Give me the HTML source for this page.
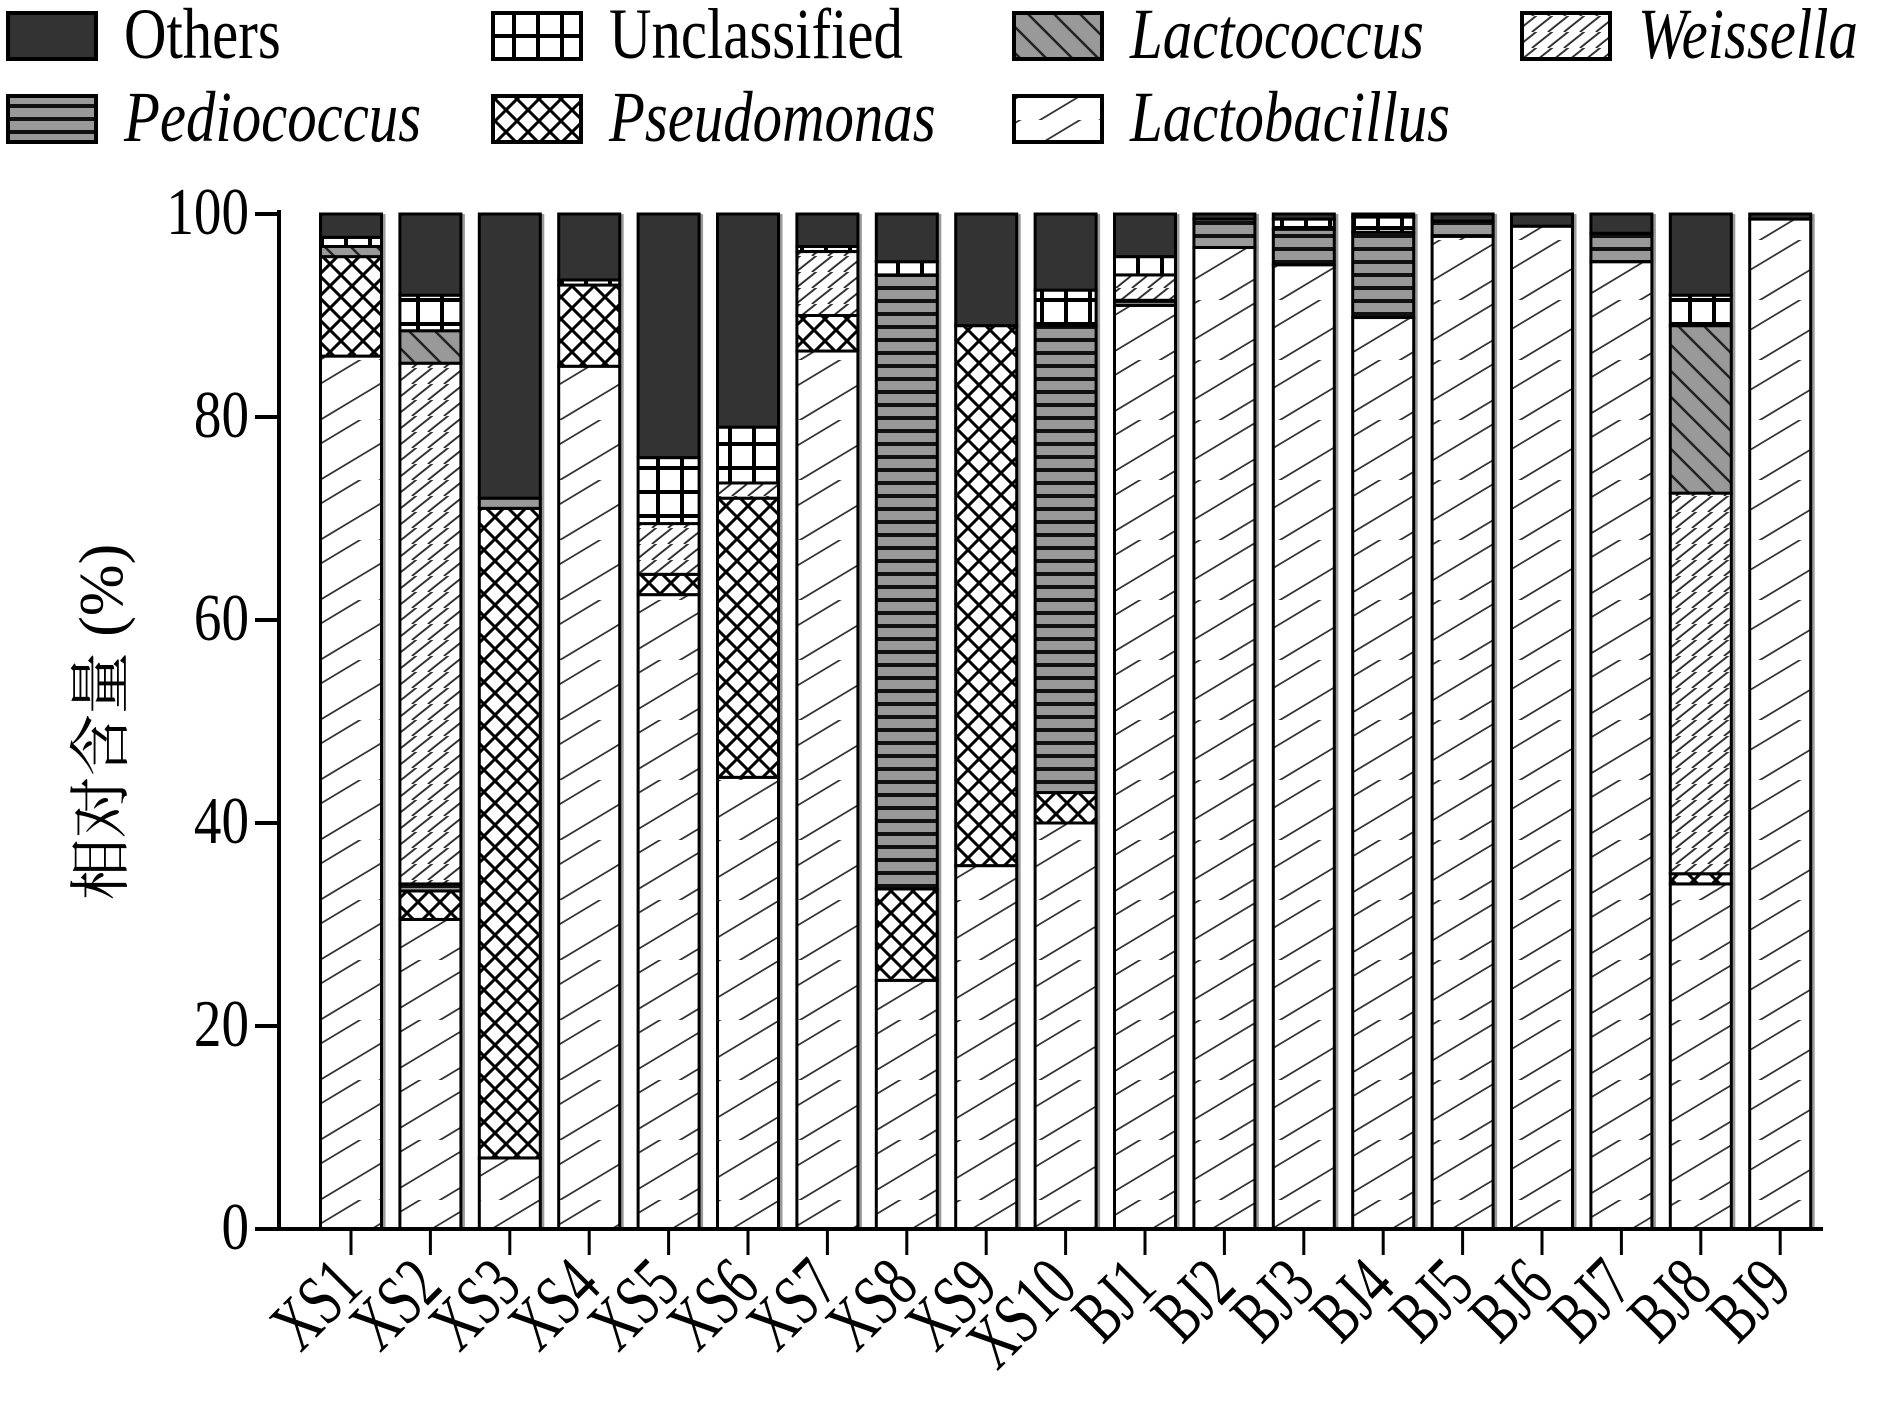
<!DOCTYPE html>
<html><head><meta charset="utf-8"><style>
html,body{margin:0;padding:0;background:#fff;}
svg{display:block;}
text{font-family:"Liberation Serif","Noto Serif CJK SC",serif;fill:#000;}
</style></head><body>
<svg id="chart" width="1890" height="1419" viewBox="0 0 1890 1419" xmlns="http://www.w3.org/2000/svg">
<defs>
<pattern id="p-lacb" patternUnits="userSpaceOnUse" width="60" height="60">
<rect width="60" height="60" fill="#fff"/><path d="M-15,75 L75,-15 M-45,45 L45,-45 M15,105 L105,15" stroke="#333" stroke-width="2.5" transform="scale(1,0.6)"/></pattern>
<pattern id="p-weis" patternUnits="userSpaceOnUse" width="16" height="16">
<rect width="16" height="16" fill="#fff"/><path d="M-4,20 L20,-4 M-4,4 L4,-4 M12,20 L20,12" stroke="#333" stroke-width="2.2" transform="scale(1,0.8)"/></pattern>
<pattern id="p-pseu" patternUnits="userSpaceOnUse" width="22" height="22">
<rect width="22" height="22" fill="#fff"/><path d="M0,0 L22,22 M22,0 L0,22" stroke="#000" stroke-width="3"/></pattern>
<pattern id="p-pedi" patternUnits="userSpaceOnUse" width="20" height="13">
<rect width="20" height="13" fill="#999"/><rect y="0" width="20" height="4" fill="#111"/></pattern>
<pattern id="p-lacc" patternUnits="userSpaceOnUse" width="26" height="26">
<rect width="26" height="26" fill="#999"/><path d="M-5,-5 L31,31 M-18,8 L18,44 M8,-18 L44,18" stroke="#222" stroke-width="2.5"/></pattern>
<pattern id="p-uncl" patternUnits="userSpaceOnUse" width="24" height="24">
<rect width="24" height="24" fill="#fff"/><path d="M10,0 V24 M0,12 H24" stroke="#000" stroke-width="4"/></pattern>
</defs>
<g id="legend"></g>
<g id="bars"></g>
<g id="axes"></g>
<text transform="translate(122,722) rotate(-90)" text-anchor="middle" font-size="62">相对含量 (%)</text>
</svg>
<script>
const samples=["XS1","XS2","XS3","XS4","XS5","XS6","XS7","XS8","XS9","XS10","BJ1","BJ2","BJ3","BJ4","BJ5","BJ6","BJ7","BJ8","BJ9"];
const lactobacillus=[86,30.5,7,85,62.5,44.5,86.5,24.5,35.8,40,91,96.7,95,89.8,97.8,98.8,95.3,34,99.5];
const pseudomonas=[9.8,2.8,64,8,2,27.5,3.5,9,53.2,3,0,0,0,0,0,0,0,1,0];
const pediococcus=[0,0.7,1,0,0,0,0,60.5,0,46,0.5,2.8,3.5,8.4,1.5,0,2.8,0,0];
const weissella=[0,51.3,0,0,5,1.5,6.3,0,0,0,2.5,0,0,0,0,0,0,37.5,0];
const lactococcus=[1,3.2,0,0,0,0,0,0,0,0,0,0,0,0,0,0,0,16.5,0];
const unclassified=[0.9,3.5,0,0.5,6.5,5.5,0.5,1.3,0,3.5,1.8,0,1,1.5,0,0,0,3,0];
const others=[2.3,8,28,6.5,24,21,3.2,4.7,11,7.5,4.2,0.5,0.5,0.3,0.7,1.2,1.9,8,0.5];
const yTicks=[0,20,40,60,80,100];
const NS="http://www.w3.org/2000/svg";
const X0=279,X1=1823,Y0=1229,Y1=214,FIRST=351,STEP=79.4,BW=61;
const yS=v=>Y0-(v/100)*(Y0-Y1);
const xS=i=>FIRST+i*STEP;
function mk(tag,attrs,parent){const e=document.createElementNS(NS,tag);for(const k in attrs)e.setAttribute(k,attrs[k]);parent.appendChild(e);return e;}
const series=[
 {name:"lactobacillus",vals:lactobacillus,fill:"url(#p-lacb)"},
 {name:"pseudomonas",vals:pseudomonas,fill:"url(#p-pseu)"},
 {name:"pediococcus",vals:pediococcus,fill:"url(#p-pedi)"},
 {name:"weissella",vals:weissella,fill:"url(#p-weis)"},
 {name:"lactococcus",vals:lactococcus,fill:"url(#p-lacc)"},
 {name:"unclassified",vals:unclassified,fill:"url(#p-uncl)"},
 {name:"others",vals:others,fill:"#333"}];
const bars=document.getElementById("bars");
samples.forEach((s,i)=>{
 const g=mk("g",{},bars);
 
 
 const cx=xS(i),x=cx-BW/2;
 let total=0;series.forEach(se=>total+=se.vals[i]);
 mk("rect",{x:x+2,y:yS(total),width:BW+2,height:yS(0)-yS(total),fill:"#999"},g);
 let acc=0;
 series.forEach(se=>{
  const v=se.vals[i];if(v<=0)return;
  const r=mk("rect",{x:x,y:yS(acc+v),width:BW,height:yS(acc)-yS(acc+v),fill:se.fill,stroke:"#000","stroke-width":3},g);
  
  
  acc+=v;
 });
});
const ax=document.getElementById("axes");
mk("line",{x1:X0,y1:Y1-4,x2:X0,y2:Y0+2,stroke:"#000","stroke-width":4},ax);
mk("line",{x1:X0-2,y1:Y0,x2:X1,y2:Y0,stroke:"#000","stroke-width":4},ax);
yTicks.forEach(t=>{
 mk("line",{x1:X0-24,y1:yS(t),x2:X0,y2:yS(t),stroke:"#000","stroke-width":4},ax);
 const tx=mk("text",{transform:`translate(${X0-30},${yS(t)+20}) scale(0.95,1.15)`,"text-anchor":"end","font-size":58},ax);
 tx.textContent=t;
 
 
});
samples.forEach((s,i)=>{
 mk("line",{x1:xS(i),y1:Y0,x2:xS(i),y2:Y0+26,stroke:"#000","stroke-width":3},ax);
 const tx=mk("text",{transform:`translate(${xS(i)+14},${Y0+60}) rotate(-45) scale(0.95,1.35)`,"text-anchor":"end","font-size":54},ax);
 tx.textContent=s;
 
 
});
const legendItems=[
 ["Others","#333",6,36,false],["Unclassified","url(#p-uncl)",491,36,false],["Lactococcus","url(#p-lacc)",1012,36,true],["Weissella","url(#p-weis)",1520,36,true],
 ["Pediococcus","url(#p-pedi)",6,119,true],["Pseudomonas","url(#p-pseu)",491,119,true],["Lactobacillus","url(#p-lacb)",1012,119,true]];
const lg=document.getElementById("legend");
legendItems.forEach(it=>{
 const g=mk("g",{},lg);
 
 
 mk("rect",{x:it[2]+2,y:it[3]-23,width:88,height:46,fill:it[1],stroke:"#000","stroke-width":4},g);
 const t=mk("text",{transform:`translate(${it[2]+118},${it[3]+22}) scale(0.98,1.2)`,"font-size":60,"font-style":it[4]?"italic":"normal"},g);
 t.textContent=it[0];
});
</script>
</body></html>
